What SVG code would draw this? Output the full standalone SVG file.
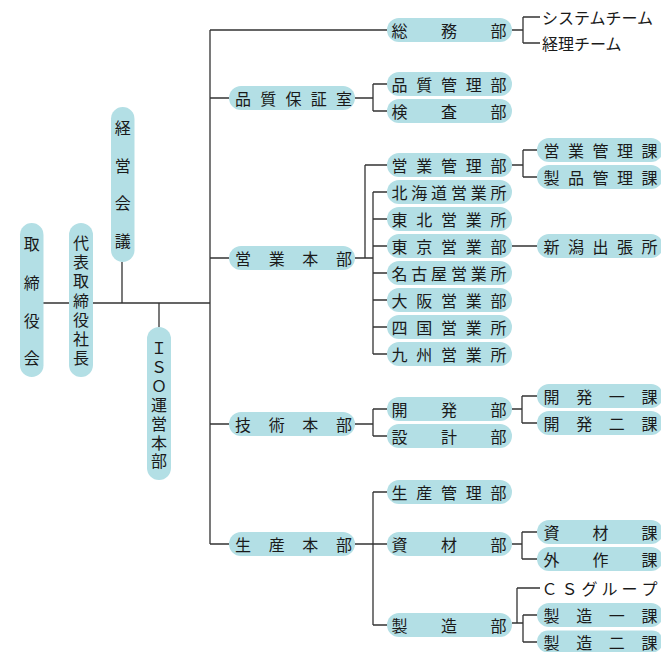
<svg xmlns="http://www.w3.org/2000/svg" width="661" height="652" viewBox="0 0 661 652">
<style>
.p{fill:#b3dfe5}
.t{font-family:"Noto Sans CJK JP","Noto Sans",sans-serif;font-size:16px;fill:#1a1a1a;text-anchor:middle;dominant-baseline:central}
.pl{font-family:"Noto Sans CJK JP","Noto Sans",sans-serif;font-size:16px;fill:#1a1a1a;dominant-baseline:central}
.c{stroke:#333;stroke-width:1.3;fill:none}
</style>
<rect width="661" height="652" fill="#fff"/>
<g id="connectors" class="c">
<path d="M43 303H69M93 303H210M122 262V303M159 303V327"/>
<path d="M210 30V544M210 30H387M210 98H229M210 258H229M210 424H229M210 544H229"/>
<path d="M512 30H523M523 17V43M523 17H540M523 43H540"/>
<path d="M355 98H373M373 84V111M373 84H387M373 111H387"/>
<path d="M355 258H373M365 165V258M365 165H387M373 192V354M373 192H387M373 219H387M373 246H387M373 273H387M373 300H387M373 327H387M373 354H387"/>
<path d="M512 165H523M523 150V177M523 150H537M523 177H537M512 246H537"/>
<path d="M355 424H373M373 409V436M373 409H387M373 436H387M512 409H522M522 396V423M522 396H537M522 423H537"/>
<path d="M355 544H387M373 492V625M373 492H387M373 625H387M512 544H522M522 532V559M522 532H537M522 559H537"/>
<path d="M512 623H523M517 588V623M517 588H540M523 615V642M523 615H537M523 642H537"/>
</g>
<g id="n-torishimariyakukai"><rect class="p" x="20" y="223" width="23.5" height="154" rx="11.75"/><text class="t" x="31.7 31.7 31.7 31.7" y="243 282 320 357">取締役会</text></g>
<g id="n-shacho"><rect class="p" x="69" y="223" width="24" height="154" rx="12"/><text class="t" x="81 81 81 81 81 81 81" y="242 261.2 280.3 299.5 318.7 337.8 357">代表取締役社長</text></g>
<g id="n-keieikaigi"><rect class="p" x="111" y="107" width="23.5" height="155" rx="11.75"/><text class="t" x="122.7 122.7 122.7 122.7" y="127 165 202 240">経営会議</text></g>
<g id="n-iso"><rect class="p" x="147" y="327" width="24" height="153" rx="12"/><text class="t" x="159 159 159 159 159 159 159" y="347 366 385 404 423 442 460">ＩＳＯ運営本部</text></g>

<g id="n-hinshitsuhoshoshitsu"><rect class="p" x="229" y="86" width="126" height="24" rx="12"/><text class="t" x="243 268.25 293.5 318.75 344" y="98">品質保証室</text></g>
<g id="n-eigyohonbu"><rect class="p" x="229" y="246" width="126" height="24" rx="12"/><text class="t" x="243 276.7 310.3 344" y="258">営業本部</text></g>
<g id="n-gijutsuhonbu"><rect class="p" x="229" y="412" width="126" height="24" rx="12"/><text class="t" x="243 276.7 310.3 344" y="424">技術本部</text></g>
<g id="n-seisanhonbu"><rect class="p" x="229" y="532" width="126" height="24" rx="12"/><text class="t" x="243 276.7 310.3 344" y="544">生産本部</text></g>

<g id="n-somubu"><rect class="p" x="387" y="18" width="125" height="24" rx="12"/><text class="t" x="399.5 449 498.5" y="30">総務部</text></g>
<g id="n-hinshitsukanribu"><rect class="p" x="387" y="72" width="125" height="24" rx="12"/><text class="t" x="399.5 424.25 449 473.75 498.5" y="84">品質管理部</text></g>
<g id="n-kensabu"><rect class="p" x="387" y="99" width="125" height="24" rx="12"/><text class="t" x="399.5 449 498.5" y="111">検査部</text></g>
<g id="n-eigyokanribu"><rect class="p" x="387" y="153" width="125" height="24" rx="12"/><text class="t" x="399.5 424.25 449 473.75 498.5" y="165">営業管理部</text></g>
<g id="n-hokkaido"><rect class="p" x="387" y="180" width="125" height="24" rx="12"/><text class="t" x="399.5 419.3 439.1 458.9 478.7 498.5" y="192">北海道営業所</text></g>
<g id="n-tohoku"><rect class="p" x="387" y="207" width="125" height="24" rx="12"/><text class="t" x="399.5 424.25 449 473.75 498.5" y="219">東北営業所</text></g>
<g id="n-tokyo"><rect class="p" x="387" y="234" width="125" height="24" rx="12"/><text class="t" x="399.5 424.25 449 473.75 498.5" y="246">東京営業部</text></g>
<g id="n-nagoya"><rect class="p" x="387" y="261" width="125" height="24" rx="12"/><text class="t" x="399.5 419.3 439.1 458.9 478.7 498.5" y="273">名古屋営業所</text></g>
<g id="n-osaka"><rect class="p" x="387" y="288" width="125" height="24" rx="12"/><text class="t" x="399.5 424.25 449 473.75 498.5" y="300">大阪営業部</text></g>
<g id="n-shikoku"><rect class="p" x="387" y="315" width="125" height="24" rx="12"/><text class="t" x="399.5 424.25 449 473.75 498.5" y="327">四国営業所</text></g>
<g id="n-kyushu"><rect class="p" x="387" y="342" width="125" height="24" rx="12"/><text class="t" x="399.5 424.25 449 473.75 498.5" y="354">九州営業所</text></g>
<g id="n-kaihatsubu"><rect class="p" x="387" y="397" width="125" height="24" rx="12"/><text class="t" x="399.5 449 498.5" y="409">開発部</text></g>
<g id="n-sekkeibu"><rect class="p" x="387" y="424" width="125" height="24" rx="12"/><text class="t" x="399.5 449 498.5" y="436">設計部</text></g>
<g id="n-seisankanribu"><rect class="p" x="387" y="480" width="125" height="24" rx="12"/><text class="t" x="399.5 424.25 449 473.75 498.5" y="492">生産管理部</text></g>
<g id="n-shizaibu"><rect class="p" x="387" y="532" width="125" height="24" rx="12"/><text class="t" x="399.5 449 498.5" y="544">資材部</text></g>
<g id="n-seizobu"><rect class="p" x="387" y="613" width="125" height="24" rx="12"/><text class="t" x="399.5 449 498.5" y="625">製造部</text></g>

<g id="n-system"><text class="pl" x="542" y="17">システムチーム</text></g>
<g id="n-keiri"><text class="pl" x="542" y="43">経理チーム</text></g>
<g id="n-eigyokanrika"><rect class="p" x="537" y="138" width="126" height="24" rx="12"/><text class="t" x="551.5 576 600.5 625 649.5" y="150">営業管理課</text></g>
<g id="n-seihinkanrika"><rect class="p" x="537" y="165" width="126" height="24" rx="12"/><text class="t" x="551.5 576 600.5 625 649.5" y="177">製品管理課</text></g>
<g id="n-niigata"><rect class="p" x="537" y="234" width="126" height="24" rx="12"/><text class="t" x="551.5 576 600.5 625 649.5" y="246">新潟出張所</text></g>
<g id="n-kaihatsu1"><rect class="p" x="537" y="384" width="126" height="24" rx="12"/><text class="t" x="551.5 584.2 616.8 649.5" y="396">開発一課</text></g>
<g id="n-kaihatsu2"><rect class="p" x="537" y="411" width="126" height="24" rx="12"/><text class="t" x="551.5 584.2 616.8 649.5" y="423">開発二課</text></g>
<g id="n-shizaika"><rect class="p" x="537" y="520" width="126" height="24" rx="12"/><text class="t" x="551.5 600.5 649.5" y="532">資材課</text></g>
<g id="n-gaisakuka"><rect class="p" x="537" y="547" width="126" height="24" rx="12"/><text class="t" x="551.5 600.5 649.5" y="559">外作課</text></g>
<g id="n-cs"><text class="t" x="549.5 569.5 589.5 609.5 629.5 649.5" y="588">ＣＳグループ</text></g>
<g id="n-seizo1"><rect class="p" x="537" y="603" width="126" height="24" rx="12"/><text class="t" x="551.5 584.2 616.8 649.5" y="615">製造一課</text></g>
<g id="n-seizo2"><rect class="p" x="537" y="630.5" width="126" height="22" rx="11"/><text class="t" x="551.5 584.2 616.8 649.5" y="641.5">製造二課</text></g>
</svg>
